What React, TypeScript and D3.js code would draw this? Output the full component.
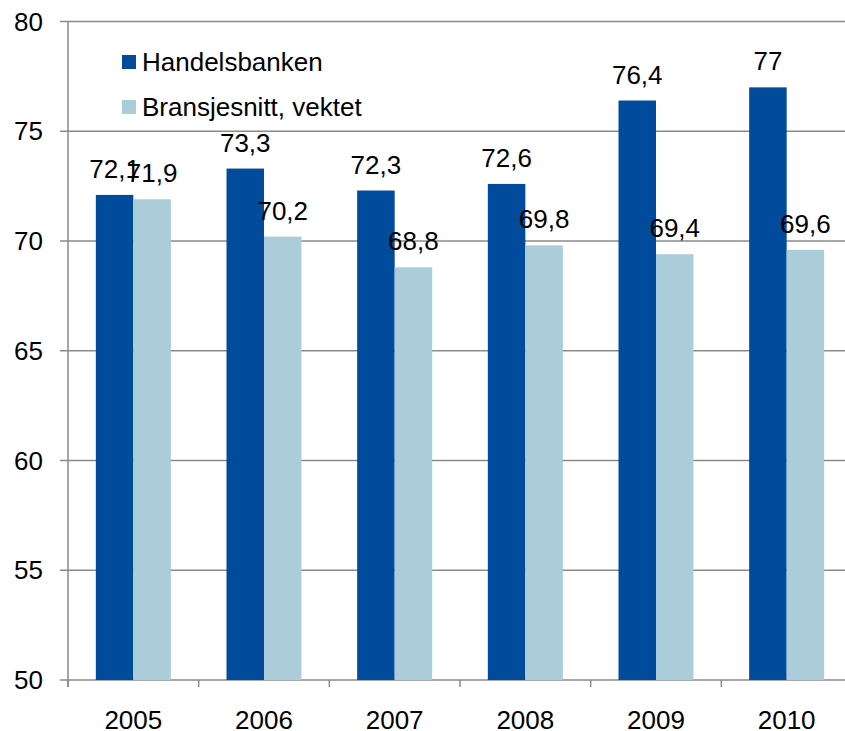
import React, { useEffect, useRef } from 'react';
import * as d3 from 'd3';

const years = ['2005', '2006', '2007', '2008', '2009', '2010'];
const seriesNames = ['Handelsbanken', 'Bransjesnitt, vektet'];
const handelsbanken = [72.1, 73.3, 72.3, 72.6, 76.4, 77];
const bransjesnitt = [71.9, 70.2, 68.8, 69.8, 69.4, 69.6];
const yTicks = [50, 55, 60, 65, 70, 75, 80];
const colors = ['#004b9b', '#abcdd9'];

const fmt = (v: number) => String(v).replace('.', ',');

export default function App() {
    const ref = useRef<SVGSVGElement>(null);

    useEffect(() => {
        const svg = d3.select(ref.current);
        svg.selectAll('*').remove();

        const left = 68, right = 852, top = 21.5, bottom = 680;
        const font = 'Liberation Sans, Arial, sans-serif';

        const x = d3.scaleBand()
            .domain(years)
            .range([left, right])
            .paddingInner(0.426)
            .paddingOuter(0.213);

        const xSub = d3.scaleBand()
            .domain(seriesNames)
            .range([0, x.bandwidth()]);

        const y = d3.scaleLinear().domain([50, 80]).range([bottom, top]);

        // grid lines
        svg.append('g')
            .selectAll('line')
            .data(yTicks)
            .enter()
            .append('line')
            .attr('x1', 60)
            .attr('x2', right)
            .attr('y1', d => y(d))
            .attr('y2', d => y(d))
            .attr('stroke', '#8a8a8a')
            .attr('stroke-width', 1.5);

        // y tick labels
        svg.append('g')
            .selectAll('text')
            .data(yTicks)
            .enter()
            .append('text')
            .attr('x', 43)
            .attr('y', d => y(d) + 9)
            .attr('text-anchor', 'end')
            .attr('font-family', font)
            .attr('font-size', 26)
            .attr('fill', '#000')
            .text(d => d);

        // y axis line
        svg.append('line')
            .attr('x1', left).attr('x2', left)
            .attr('y1', top).attr('y2', bottom + 7)
            .attr('stroke', '#8a8a8a')
            .attr('stroke-width', 1.5);

        // x ticks
        const step = x.step();
        svg.append('g')
            .selectAll('line')
            .data(d3.range(years.length + 1))
            .enter()
            .append('line')
            .attr('x1', i => left + i * step)
            .attr('x2', i => left + i * step)
            .attr('y1', bottom)
            .attr('y2', bottom + 7)
            .attr('stroke', '#8a8a8a')
            .attr('stroke-width', 1.5);

        // x labels
        svg.append('g')
            .selectAll('text')
            .data(years)
            .enter()
            .append('text')
            .attr('x', d => (x(d) as number) + x.bandwidth() / 2)
            .attr('y', 729)
            .attr('text-anchor', 'middle')
            .attr('font-family', font)
            .attr('font-size', 26)
            .attr('fill', '#000')
            .text(d => d);

        const data = [handelsbanken, bransjesnitt];

        data.forEach((vals, si) => {
            const g = svg.append('g');
            g.selectAll('rect')
                .data(vals)
                .enter()
                .append('rect')
                .attr('x', (d, i) => (x(years[i]) as number) + (xSub(seriesNames[si]) as number))
                .attr('y', d => y(d))
                .attr('width', xSub.bandwidth())
                .attr('height', d => y(50) - y(d))
                .attr('fill', colors[si]);
        });

        // value labels
        data.forEach((vals, si) => {
            svg.append('g')
                .selectAll('text')
                .data(vals)
                .enter()
                .append('text')
                .attr('x', (d, i) => (x(years[i]) as number) + (xSub(seriesNames[si]) as number) + xSub.bandwidth() / 2)
                .attr('y', d => y(d) - 17)
                .attr('text-anchor', 'middle')
                .attr('font-family', font)
                .attr('font-size', 26)
                .attr('fill', '#000')
                .text(d => fmt(d));
        });

        // legend
        const legend = svg.append('g');
        const legendY = [55, 100];
        seriesNames.forEach((name, i) => {
            legend.append('rect')
                .attr('x', 122)
                .attr('y', legendY[i])
                .attr('width', 14)
                .attr('height', 14)
                .attr('fill', colors[i]);
            legend.append('text')
                .attr('x', 142)
                .attr('y', legendY[i] + 16)
                .attr('font-family', font)
                .attr('font-size', 26)
                .attr('fill', '#000')
                .text(name);
        });
    }, []);

    return (
        <svg ref={ref} width={845} height={731}
            style={{ position: 'absolute', left: 0, top: 0, background: '#fff' }} />
    );
}
